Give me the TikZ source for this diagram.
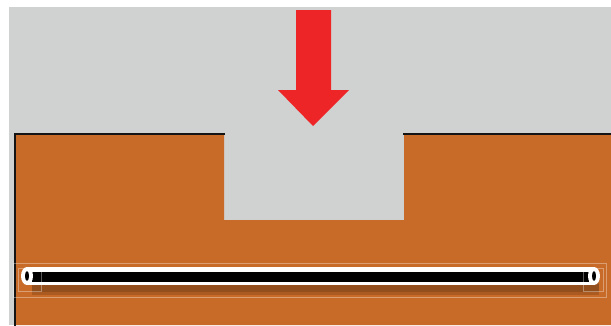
\documentclass[tikz,border=0pt]{standalone}
\usepackage{tikz}
\usetikzlibrary{calc}
\definecolor{backdrop}{HTML}{D0D2D1}
\definecolor{slab}{HTML}{C86A28}
\definecolor{press}{HTML}{EE2527}
\definecolor{frame}{HTML}{141414}
\tikzset{
  edge/.style={draw=frame,line width=2pt,line cap=rect},
  rodshadow/.style={line width=11pt,draw=black,opacity=0.14},
  rodskin/.style={line width=18pt,draw=white},
  rodcore/.style={line width=10pt,draw=black},
  rodend/.style={fill=white,draw=none},
  guide/.style={draw=white,opacity=0.35,line width=0.6pt}
}

\begin{document}
\begin{tikzpicture}[x=1pt,y=-1pt]
  \useasboundingbox (0,0) rectangle (611,325);
  % backdrop and slab with its notch
  \fill[backdrop] (9,7) rectangle (611,325);
  \fill[slab] (15,325) -- (15,134) -- (224,134) -- (224,220)
    -- (404,220) -- (404,134) -- (611,134) -- (611,325) -- cycle;
  \draw[edge] (15,325) -- (15,134) -- (224,134);
  \draw[edge] (404,134) -- (611,134);

  % load arrow
  \coordinate (loadtop) at (313,10);
  \coordinate (loadtip) at (313,126);
  \fill[press] ($(loadtop)+(-17,0)$) -- ($(loadtop)+(18,0)$)
    -- ($(loadtop)+(18,80)$) -- ($(loadtop)+(36,80)$) -- (loadtip)
    -- ($(loadtop)+(-35,80)$) -- ($(loadtop)+(-17,80)$) -- cycle;

  % rod embedded in the slab
  \coordinate (rodleft) at (27,276);
  \coordinate (rodright) at (594,276);
  \draw[rodshadow] ($(rodleft)+(5,13)$) -- ($(rodright)+(5,13)$);
  \draw[rodshadow] ($(rodleft)+(5,10)$) -- ($(rodright)+(5,10)$);
  \draw[rodskin] (rodleft) -- (rodright);
  \draw[rodcore] ($(rodleft)+(5,1)$) -- ($(rodright)+(-5,1)$);
  \fill[rodend] (rodleft) ellipse (6pt and 9pt);
  \fill[rodend] (rodright) ellipse (6pt and 9pt);
  \fill[black] (rodleft) ellipse (2pt and 5pt);
  \fill[black] (rodright) ellipse (2pt and 5pt);

  % faint selection frames
  \draw[guide] (13,263) rectangle (606,297);
  \draw[guide] (18,268) rectangle (41,291);
  \draw[guide] (583,268) rectangle (603,291);
\end{tikzpicture}
\end{document}
